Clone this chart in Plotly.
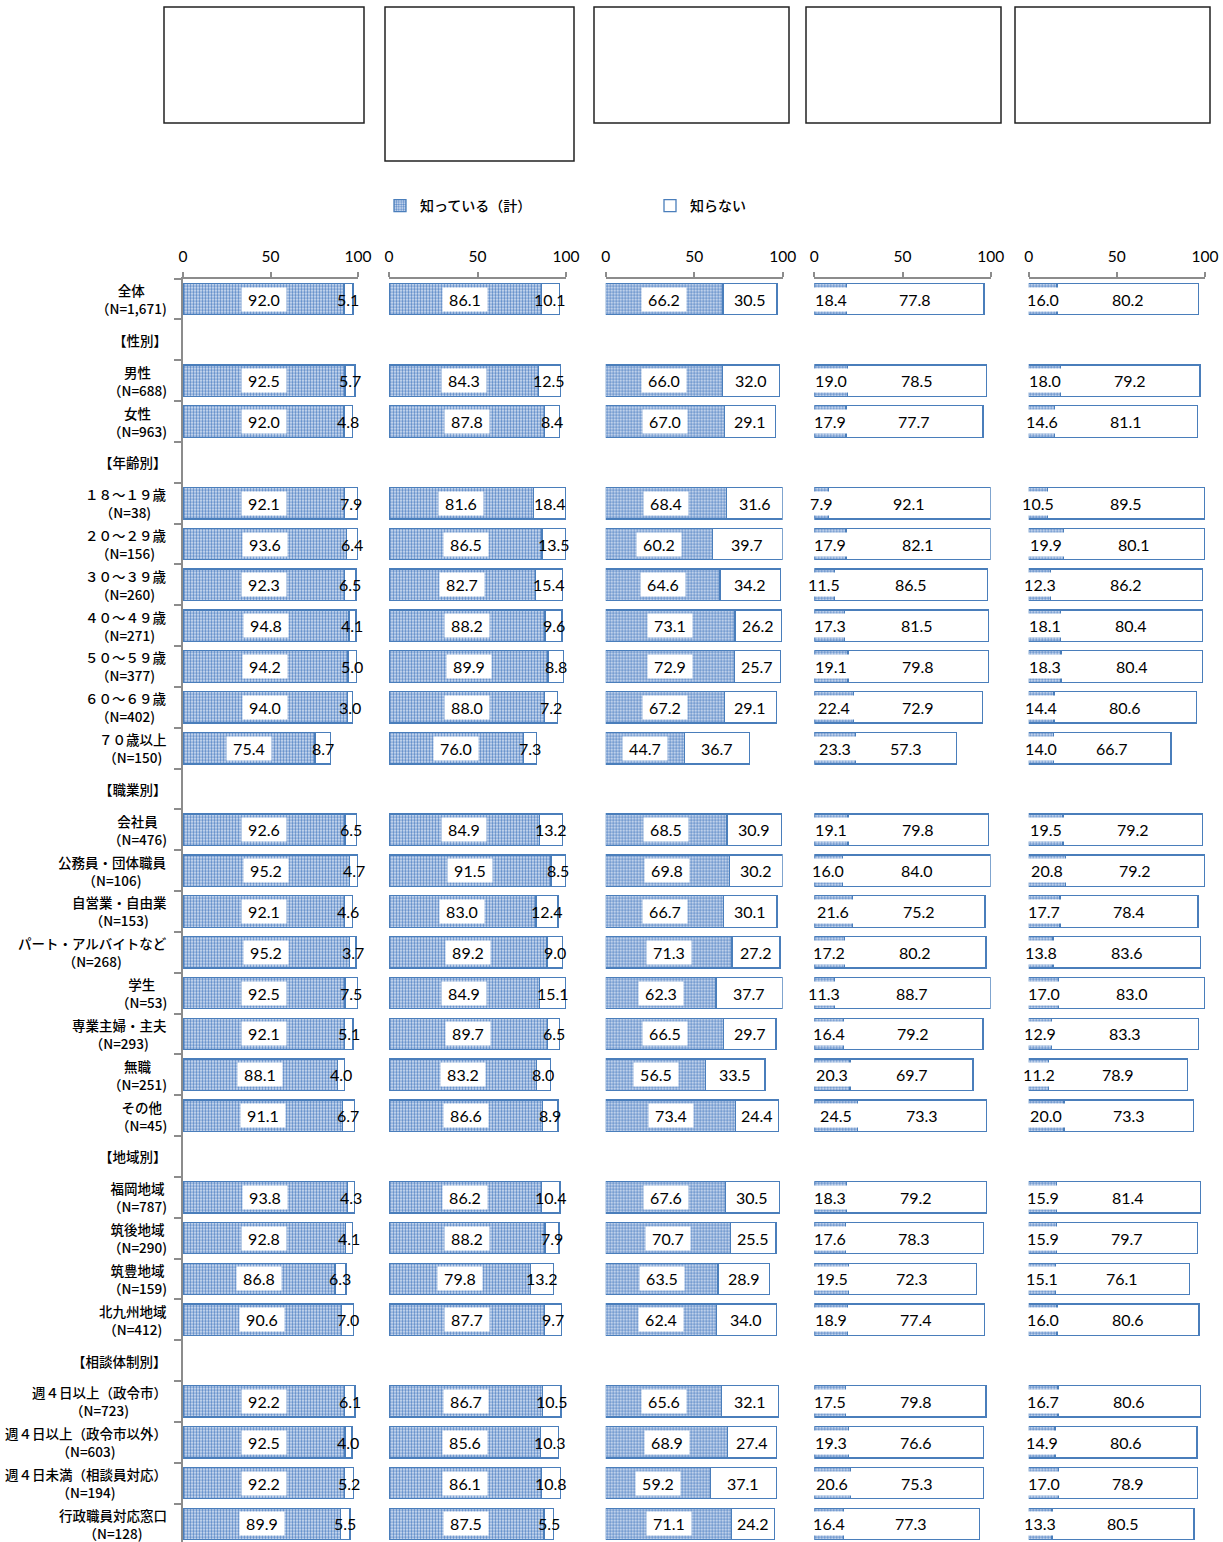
import plotly.graph_objects as go

W, H = 1223, 1542

# Row labels (section headers have no sample size and no bars)
row_names = [
    "全体", "【性別】", "男性", "女性", "【年齢別】",
    "１８～１９歳", "２０～２９歳", "３０～３９歳", "４０～４９歳", "５０～５９歳", "６０～６９歳", "７０歳以上",
    "【職業別】", "会社員", "公務員・団体職員", "自営業・自由業", "パート・アルバイトなど", "学生",
    "専業主婦・主夫", "無職", "その他",
    "【地域別】", "福岡地域", "筑後地域", "筑豊地域", "北九州地域",
    "【相談体制別】", "週４日以上（政令市）", "週４日以上（政令市以外）", "週４日未満（相談員対応）", "行政職員対応窓口",
]
row_sizes = [
    "1,671", None, "688", "963", None,
    "38", "156", "260", "271", "377", "402", "150",
    None, "476", "106", "153", "268", "53", "293", "251", "45",
    None, "787", "290", "159", "412",
    None, "723", "603", "194", "128",
]

# 知っている（計） by panel
aware_p1 = [92.0, None, 92.5, 92.0, None, 92.1, 93.6, 92.3, 94.8, 94.2, 94.0, 75.4,
            None, 92.6, 95.2, 92.1, 95.2, 92.5, 92.1, 88.1, 91.1,
            None, 93.8, 92.8, 86.8, 90.6, None, 92.2, 92.5, 92.2, 89.9]
aware_p2 = [86.1, None, 84.3, 87.8, None, 81.6, 86.5, 82.7, 88.2, 89.9, 88.0, 76.0,
            None, 84.9, 91.5, 83.0, 89.2, 84.9, 89.7, 83.2, 86.6,
            None, 86.2, 88.2, 79.8, 87.7, None, 86.7, 85.6, 86.1, 87.5]
aware_p3 = [66.2, None, 66.0, 67.0, None, 68.4, 60.2, 64.6, 73.1, 72.9, 67.2, 44.7,
            None, 68.5, 69.8, 66.7, 71.3, 62.3, 66.5, 56.5, 73.4,
            None, 67.6, 70.7, 63.5, 62.4, None, 65.6, 68.9, 59.2, 71.1]
aware_p4 = [18.4, None, 19.0, 17.9, None, 7.9, 17.9, 11.5, 17.3, 19.1, 22.4, 23.3,
            None, 19.1, 16.0, 21.6, 17.2, 11.3, 16.4, 20.3, 24.5,
            None, 18.3, 17.6, 19.5, 18.9, None, 17.5, 19.3, 20.6, 16.4]
aware_p5 = [16.0, None, 18.0, 14.6, None, 10.5, 19.9, 12.3, 18.1, 18.3, 14.4, 14.0,
            None, 19.5, 20.8, 17.7, 13.8, 17.0, 12.9, 11.2, 20.0,
            None, 15.9, 15.9, 15.1, 16.0, None, 16.7, 14.9, 17.0, 13.3]

# 知らない by panel
unaware_p1 = [5.1, None, 5.7, 4.8, None, 7.9, 6.4, 6.5, 4.1, 5.0, 3.0, 8.7,
              None, 6.5, 4.7, 4.6, 3.7, 7.5, 5.1, 4.0, 6.7,
              None, 4.3, 4.1, 6.3, 7.0, None, 6.1, 4.0, 5.2, 5.5]
unaware_p2 = [10.1, None, 12.5, 8.4, None, 18.4, 13.5, 15.4, 9.6, 8.8, 7.2, 7.3,
              None, 13.2, 8.5, 12.4, 9.0, 15.1, 6.5, 8.0, 8.9,
              None, 10.4, 7.9, 13.2, 9.7, None, 10.5, 10.3, 10.8, 5.5]
unaware_p3 = [30.5, None, 32.0, 29.1, None, 31.6, 39.7, 34.2, 26.2, 25.7, 29.1, 36.7,
              None, 30.9, 30.2, 30.1, 27.2, 37.7, 29.7, 33.5, 24.4,
              None, 30.5, 25.5, 28.9, 34.0, None, 32.1, 27.4, 37.1, 24.2]
unaware_p4 = [77.8, None, 78.5, 77.7, None, 92.1, 82.1, 86.5, 81.5, 79.8, 72.9, 57.3,
              None, 79.8, 84.0, 75.2, 80.2, 88.7, 79.2, 69.7, 73.3,
              None, 79.2, 78.3, 72.3, 77.4, None, 79.8, 76.6, 75.3, 77.3]
unaware_p5 = [80.2, None, 79.2, 81.1, None, 89.5, 80.1, 86.2, 80.4, 80.4, 80.6, 66.7,
              None, 79.2, 79.2, 78.4, 83.6, 83.0, 83.3, 78.9, 73.3,
              None, 81.4, 79.7, 76.1, 80.6, None, 80.6, 80.6, 78.9, 80.5]

series_names = ["知っている（計）", "知らない"]
axis_ticks = [0, 50, 100]

panels = [
    (aware_p1, unaware_p1),
    (aware_p2, unaware_p2),
    (aware_p3, unaware_p3),
    (aware_p4, unaware_p4),
    (aware_p5, unaware_p5),
]

BLUE = "#4a7ebb"
AXIS_GREY = "#8c8c8c"
JP_FONT = "Noto Sans CJK JP"
NUM_FONT = "Lato"


def px_x(p):
    return p / W


def px_y(p):
    return 1 - p / H


# Horizontal extent (pixels) of each panel's plotting area
panel_px = [(183, 358), (389, 566), (605.7, 782.7), (814.3, 990.7), (1028.7, 1205)]
plot_top_px = 278.6
row_pitch = 40.83
y_bottom = -0.5 + (H - plot_top_px) / row_pitch

fig = go.Figure()

for i, (aware, unaware) in enumerate(panels):
    sfx = "" if i == 0 else str(i + 1)
    xa, ya = "x" + sfx, "y" + sfx
    fig.add_trace(go.Bar(
        y=row_names, x=aware, orientation="h", name=series_names[0],
        xaxis=xa, yaxis=ya, width=0.77, showlegend=(i == 0), legendrank=1,
        marker=dict(
            color=BLUE,
            line=dict(color=BLUE, width=1.3),
            pattern=dict(shape=".", fgcolor="#5887c6", bgcolor="#e0e9f6", size=3, solidity=0.5),
        ),
        hoverinfo="skip",
    ))
    fig.add_trace(go.Bar(
        y=row_names, x=unaware, orientation="h", name=series_names[1],
        xaxis=xa, yaxis=ya, width=0.77, showlegend=(i == 0), legendrank=2,
        marker=dict(color="white", line=dict(color=BLUE, width=1.3)),
        hoverinfo="skip",
    ))

    x0, x1 = panel_px[i]
    fig.layout["xaxis" + sfx] = dict(
        domain=[px_x(x0), px_x(x1)], anchor=ya, side="top", range=[0, 100],
        tickvals=axis_ticks, ticktext=[str(t) for t in axis_ticks],
        showline=True, linecolor=AXIS_GREY, linewidth=1.5,
        ticks="outside", ticklen=5, tickcolor=AXIS_GREY, tickwidth=1.5,
        ticklabelstandoff=4, automargin=False,
        showgrid=False, zeroline=False, fixedrange=True,
        tickfont=dict(family=NUM_FONT, size=15.5, color="#000"),
    )
    fig.layout["yaxis" + sfx] = dict(
        domain=[0, px_y(plot_top_px)], anchor=xa, type="category",
        categoryorder="array", categoryarray=row_names,
        range=[y_bottom, -0.5], showticklabels=False, showgrid=False, zeroline=False,
        showline=(i == 0), linecolor=AXIS_GREY, linewidth=1.5,
        ticks="outside" if i == 0 else "", tickson="boundaries", ticklen=7,
        tickcolor=AXIS_GREY, tickwidth=1.5, fixedrange=True, automargin=False,
    )

    # value labels: white boxed label for 知っている, plain label for 知らない
    for name, a, u in zip(row_names, aware, unaware):
        if a is None:
            continue
        fig.add_annotation(
            x=a / 2, y=name, xref=xa, yref=ya, text="\u00a0" + f"{a:.1f}" + "\u00a0",
            showarrow=False, bgcolor="white", borderpad=2,
            font=dict(family=NUM_FONT, size=16, color="#000"),
        )
        fig.add_annotation(
            x=a + u / 2, y=name, xref=xa, yref=ya, text=f"{u:.1f}",
            showarrow=False, font=dict(family=NUM_FONT, size=16, color="#000"),
        )

# Row labels: each block centered, block right-aligned to the axis
for name, n in zip(row_names, row_sizes):
    txt = name if n is None else f"{name}<br>（N={n})"
    fig.add_annotation(
        x=px_x(169), y=name, xref="paper", yref="y", xanchor="right", yanchor="middle",
        text=txt, align="center", showarrow=False,
        font=dict(family=JP_FONT, size=13.5, color="#000", weight=500),
    )

# Panel heading frames
frames_px = [(164, 7, 364, 123), (385, 7, 574, 161), (594, 7, 789, 123),
             (806, 7, 1001, 123), (1015, 7, 1210, 123)]
for fx0, fy0, fx1, fy1 in frames_px:
    fig.add_shape(type="rect", xref="paper", yref="paper",
                  x0=px_x(fx0), x1=px_x(fx1), y0=px_y(fy1), y1=px_y(fy0),
                  line=dict(color="#222", width=1.5), fillcolor="rgba(0,0,0,0)")

fig.update_layout(
    template="none",
    width=W, height=H, autosize=False, barmode="stack", bargap=0.23,
    margin=dict(l=0, r=0, t=0, b=0, pad=0, autoexpand=False),
    paper_bgcolor="white", plot_bgcolor="white",
    showlegend=True,
    legend=dict(
        orientation="h", x=px_x(380), y=px_y(206), xanchor="left", yanchor="middle",
        entrywidth=225, entrywidthmode="pixels", itemwidth=30,
        font=dict(family=JP_FONT, size=14, color="#000", weight=500), bgcolor="rgba(0,0,0,0)",
        traceorder="normal",
    ),
)

fig.write_html("out.html", config={"responsive": False})
